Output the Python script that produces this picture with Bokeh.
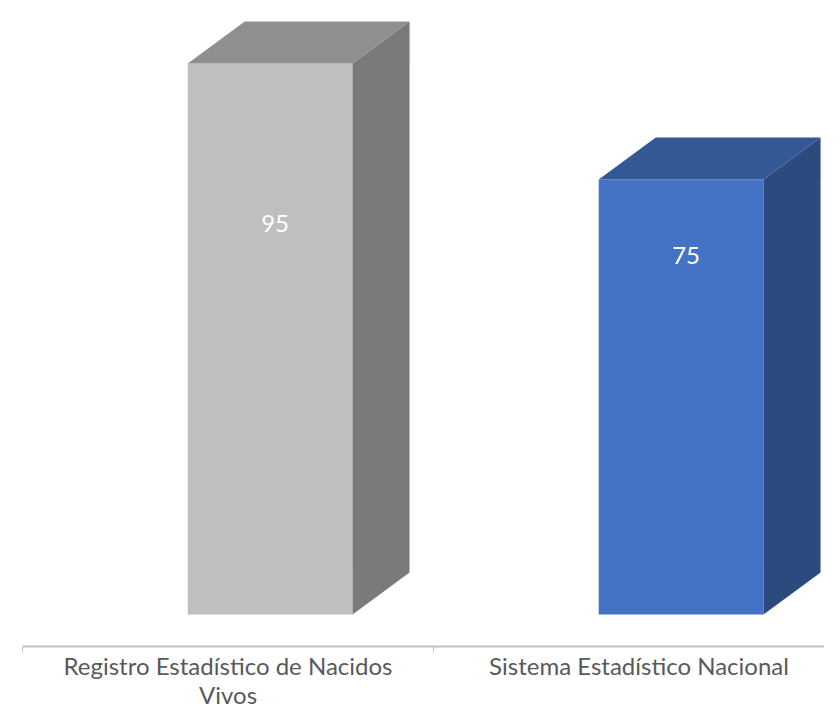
from bokeh.plotting import figure
from bokeh.models import Range1d
from bokeh.core.properties import value
from bokeh.embed import file_html
from bokeh.resources import INLINE

# ---- data ----
categories = ["Registro Estadístico de Nacidos\nVivos", "Sistema Estadístico Nacional"]
values = [95, 75]
front_colors = ["#BFBFBF", "#4472C4"]
side_colors = ["#7A7A7A", "#2C4A7E"]
top_colors = ["#8F8F8F", "#335895"]
label_pos = [67.4, 61.9]

# ---- geometry (slot units on x, value units on y) ----
W, H = 824, 710
px_x = 411.0      # pixels per category slot
px_y = 5.8        # pixels per value unit
x_origin = 22     # screen x of first slot edge
y_zero = 614      # screen y of value 0
bar_start = 0.402
bar_w = 0.401
dx = 57 / px_x
dy = 42 / px_y

p = figure(width=W, height=H, output_backend="svg", toolbar_location=None,
           x_range=Range1d(-x_origin / px_x, (W - x_origin) / px_x),
           y_range=Range1d(-(H - y_zero) / px_y, y_zero / px_y),
           min_border=0, outline_line_color=None, background_fill_color="white")
p.xaxis.visible = False
p.yaxis.visible = False
p.grid.visible = False

n = len(values)
x0 = [i + bar_start for i in range(n)]
x1 = [i + bar_start + bar_w for i in range(n)]

# front faces
p.quad(left=x0, right=x1, bottom=[0] * n, top=values, fill_color=front_colors,
       line_color=None)
# right faces
side_xs = [[x1[i], x1[i] + dx, x1[i] + dx, x1[i]] for i in range(n)]
side_ys = [[0, dy, values[i] + dy, values[i]] for i in range(n)]
p.patches(side_xs, side_ys, fill_color=side_colors, line_color=None)
# top faces
top_xs = [[x0[i], x1[i], x1[i] + dx, x0[i] + dx] for i in range(n)]
top_ys = [[values[i], values[i], values[i] + dy, values[i] + dy] for i in range(n)]
p.patches(top_xs, top_ys, fill_color=top_colors, line_color=None)

# value labels
p.text(x=[(a + b) / 2 + 0.012 for a, b in zip(x0, x1)], y=label_pos,
       text=[str(v) for v in values], text_color="white",
       text_font=value("Lato"), text_font_size="24px",
       text_align="center", text_baseline="middle")

# category axis line and ticks
axis_y = -32 / px_y
p.segment(x0=[0], y0=[axis_y], x1=[n + 0.1], y1=[axis_y], line_color="#C0C0C0",
          line_width=2)
p.segment(x0=list(range(n + 1)), y0=[axis_y] * (n + 1), x1=list(range(n + 1)),
          y1=[axis_y - 6 / px_y] * (n + 1), line_color="#BFBFBF", line_width=1)

# category labels
p.text(x=[i + 0.5 for i in range(n)], y=[-36 / px_y] * n, text=categories,
       text_color="#595959", text_font=value("Lato"), text_font_size="24px",
       text_align="center", text_baseline="top", text_line_height=1.0)

open("out.html", "w").write(file_html(p, INLINE))
